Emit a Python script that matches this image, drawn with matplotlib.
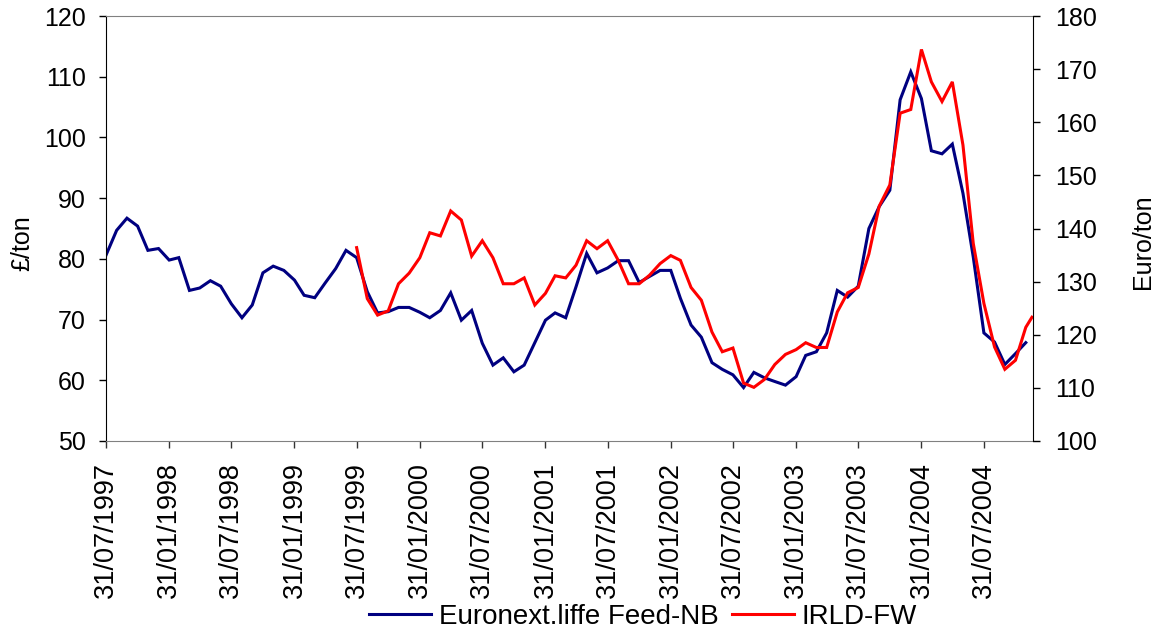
"""
Euronext.liffe feed wheat vs IRLD feed wheat prices, 1997-2004.
Writes out.png
"""

import pandas as pd
import matplotlib; matplotlib.use("Agg")
import matplotlib.pyplot as plt
import matplotlib.dates as mdates

plt.rcParams["font.family"] = ["Liberation Sans", "DejaVu Sans"]

# monthly observations from end of July 1997
dates = pd.date_range("1997-07-31", periods=89, freq=pd.offsets.MonthEnd())

# Euronext.liffe Feed-NB, £/ton (left axis)
feed_nb = [
    80.6, 84.7, 86.7, 85.4, 81.4, 81.7, 79.8, 80.2, 74.8, 75.2, 76.4, 75.5,
    72.6, 70.3, 72.4, 77.7, 78.8, 78.1, 76.5, 74.0, 73.6, 76.0, 78.4, 81.4,
    80.2, 74.6, 71.1, 71.3, 72.0, 72.0, 71.2, 70.3, 71.5, 74.4, 69.9, 71.5,
    66.1, 62.5, 63.7, 61.4, 62.5, 66.2, 69.9, 71.1, 70.3, 75.4, 80.9, 77.7,
    78.5, 79.7, 79.7, 76.1, 77.1, 78.1, 78.1, 73.5, 69.1, 67.1, 62.9, 61.8,
    60.9, 58.8, 61.3, 60.4, 59.8, 59.2, 60.6, 64.1, 64.7, 67.8, 74.8, 73.7,
    75.5, 85.0, 88.6, 91.3, 106.2, 110.8, 106.4, 97.8, 97.3, 98.9, 90.8, 80.3,
    67.8, 66.3, 62.6, 64.4, 66.2,
]

# IRLD-FW, Euro/ton (right axis), starts July 1999
irld_dates = list(dates[24:]) + [pd.Timestamp("2004-12-18")]
irld_fw = [
    136.4, 126.8, 123.7, 124.5, 129.6, 131.6, 134.5, 139.2, 138.6, 143.3,
    141.6, 134.8, 137.7, 134.5, 129.6, 129.6, 130.7, 125.6, 127.8, 131.1,
    130.7, 133.1, 137.7, 136.2, 137.7, 134.0, 129.6, 129.6, 131.2, 133.4,
    134.9, 134.0, 128.9, 126.5, 120.5, 116.8, 117.5, 110.9, 110.1, 111.6,
    114.4, 116.3, 117.2, 118.5, 117.6, 117.6, 124.3, 127.9, 128.9, 135.2,
    144.2, 148.2, 161.7, 162.4, 173.7, 167.6, 163.9, 167.6, 155.7, 137.2,
    125.9, 117.7, 113.5, 115.2, 121.4, 123.3,
]

tick_dates = pd.date_range("1997-07-31", "2004-07-31", freq=pd.offsets.MonthEnd(6))
left_ticks = list(range(50, 121, 10))
right_ticks = list(range(100, 181, 10))

W, H = 1157, 637
fig = plt.figure(figsize=(W / 100, H / 100), dpi=100)
ax = fig.add_axes([106 / W, 1 - 441 / H, 927 / W, 425 / H])
ax2 = ax.twinx()

l1, = ax.plot(dates, feed_nb, color="#000080", lw=2.2, solid_joinstyle="miter")
l2, = ax2.plot(irld_dates, irld_fw, color="#FF0000", lw=2.2, solid_joinstyle="miter")

ax.set_ylim(50, 120)
ax.set_yticks(left_ticks)
ax2.set_ylim(100, 180)
ax2.set_yticks(right_ticks)

ax.set_xlim(dates[0], pd.Timestamp("2004-12-21"))
ax.set_xticks(tick_dates)
ax.xaxis.set_major_formatter(mdates.DateFormatter("%d/%m/%Y"))
ax.xaxis.set_minor_locator(plt.NullLocator())

ax.tick_params(axis="x", direction="out", length=5, width=1, labelsize=19.5,
               pad=10, rotation=90, color="#333333")
ax.tick_params(axis="y", direction="out", length=5, width=1, labelsize=18, pad=9.5)
ax2.tick_params(axis="y", direction="out", length=5, width=1, labelsize=18, pad=11)

for s in ["top", "bottom"]:
    ax.spines[s].set_color("#808080")
ax.spines["left"].set_color("black")
ax.spines["right"].set_visible(False)
for s in ["top", "bottom", "left"]:
    ax2.spines[s].set_visible(False)
ax2.spines["right"].set_color("black")

fig.text(22 / W, 1 - 243 / H, "£/ton", rotation=90, ha="center", va="center", fontsize=18)
fig.text(1143 / W, 1 - 242 / H, "Euro/ton", rotation=90, ha="center", va="center", fontsize=18)

fig.legend([l1, l2], ["Euronext.liffe Feed-NB", "IRLD-FW"], loc="center",
           bbox_to_anchor=(643 / W, 1 - 617 / H), ncol=2, frameon=False,
           fontsize=20, handlelength=2.25, handletextpad=0.28, columnspacing=0.46)

fig.savefig("out.png", dpi=100)
